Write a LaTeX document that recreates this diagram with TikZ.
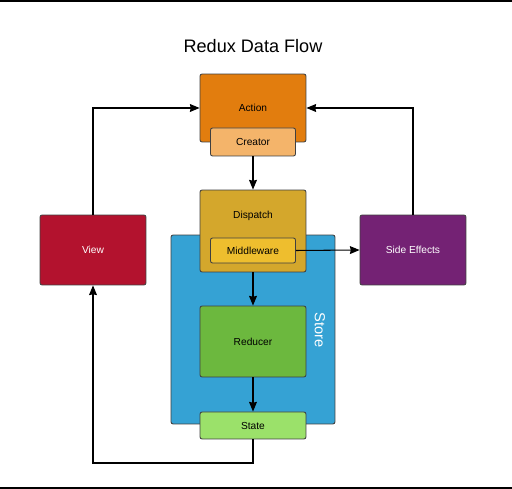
\documentclass[tikz,border=0pt]{standalone}
\usepackage{fontspec}
\setmainfont{Liberation Sans}
\usepackage{tikz}
\usetikzlibrary{calc}
\usetikzlibrary{arrows.meta}
\definecolor{actioncol}{HTML}{E27D0E}
\definecolor{creatorcol}{HTML}{F4B46A}
\definecolor{dispatchcol}{HTML}{D4A72C}
\definecolor{middlecol}{HTML}{EEBE2E}
\definecolor{storecol}{HTML}{35A2D4}
\definecolor{reducercol}{HTML}{6CB83E}
\definecolor{statecol}{HTML}{9BE16A}
\definecolor{viewcol}{HTML}{B3122E}
\definecolor{sidecol}{HTML}{742274}
\tikzset{
	boxstyle/.style={rectangle,rounded corners=1.2pt,draw=black!75,line width=0.5pt,
		font=\fontsize{5.8}{7}\selectfont,text=black},
	bigstyle/.style={boxstyle,minimum width=2.12cm},
	smallstyle/.style={boxstyle,minimum width=1.7cm},
	flowstyle/.style={draw=black,line width=0.6pt,-{Stealth[length=5.5pt,width=4.5pt,inset=0.5pt]}}
}

\begin{document}
\begin{tikzpicture}[x=0.02cm,y=-0.02cm]
		\useasboundingbox (0,0) rectangle (512,489);
		\fill[white] (0,0) rectangle (512,489);
		\draw[line width=1.2pt] (0,0.6)--(512,0.6);
		\draw[line width=1.2pt] (0,487.6)--(512,487.6);
		\node[font=\fontsize{10.3}{12}\selectfont] (title) at (253,46) {Redux Data Flow};
		\node[boxstyle,fill=storecol,minimum width=3.28cm,minimum height=3.78cm] (store) at (253,329.5) {};
		\node[text=white,rotate=-90,font=\fontsize{8.3}{10}\selectfont] (storelabel) at (320,330) {Store};
		\node[bigstyle,fill=actioncol,minimum height=1.36cm] (action) at (253,108) {Action};
		\node[smallstyle,fill=creatorcol,minimum height=0.56cm] (creator) at (253,142) {Creator};
		\node[bigstyle,fill=dispatchcol,minimum height=1.64cm,
			label={[anchor=center,yshift=-0.52cm,font=\fontsize{5.8}{7}\selectfont]north:Dispatch}] (dispatch) at (253,231) {};
		\node[smallstyle,fill=middlecol,minimum height=0.5cm] (middleware) at (253,250.5) {Middleware};
		\node[bigstyle,fill=reducercol,minimum height=1.42cm] (reducer) at (253,341.5) {Reducer};
		\node[bigstyle,fill=statecol,minimum height=0.54cm] (state) at (253,425.5) {State};
		\node[bigstyle,fill=viewcol,text=white,minimum height=1.4cm] (view) at (93,250) {View};
		\node[bigstyle,fill=sidecol,text=white,minimum height=1.4cm] (side) at (413,250) {Side Effects};
		\coordinate (bottomturn) at (253,463);
		\draw[flowstyle] (view.north) |- (action.west);
		\draw[flowstyle] (side.north) |- (action.east);
		\draw[flowstyle] (creator.south)--(dispatch.north);
		\draw[flowstyle] (middleware.east)--(side.west);
		\draw[flowstyle] (dispatch.south)--(reducer.north);
		\draw[flowstyle] (reducer.south)--(state.north);
		\draw[flowstyle] (state.south)--(bottomturn) -| (view.south);
		\end{tikzpicture}
\end{document}
